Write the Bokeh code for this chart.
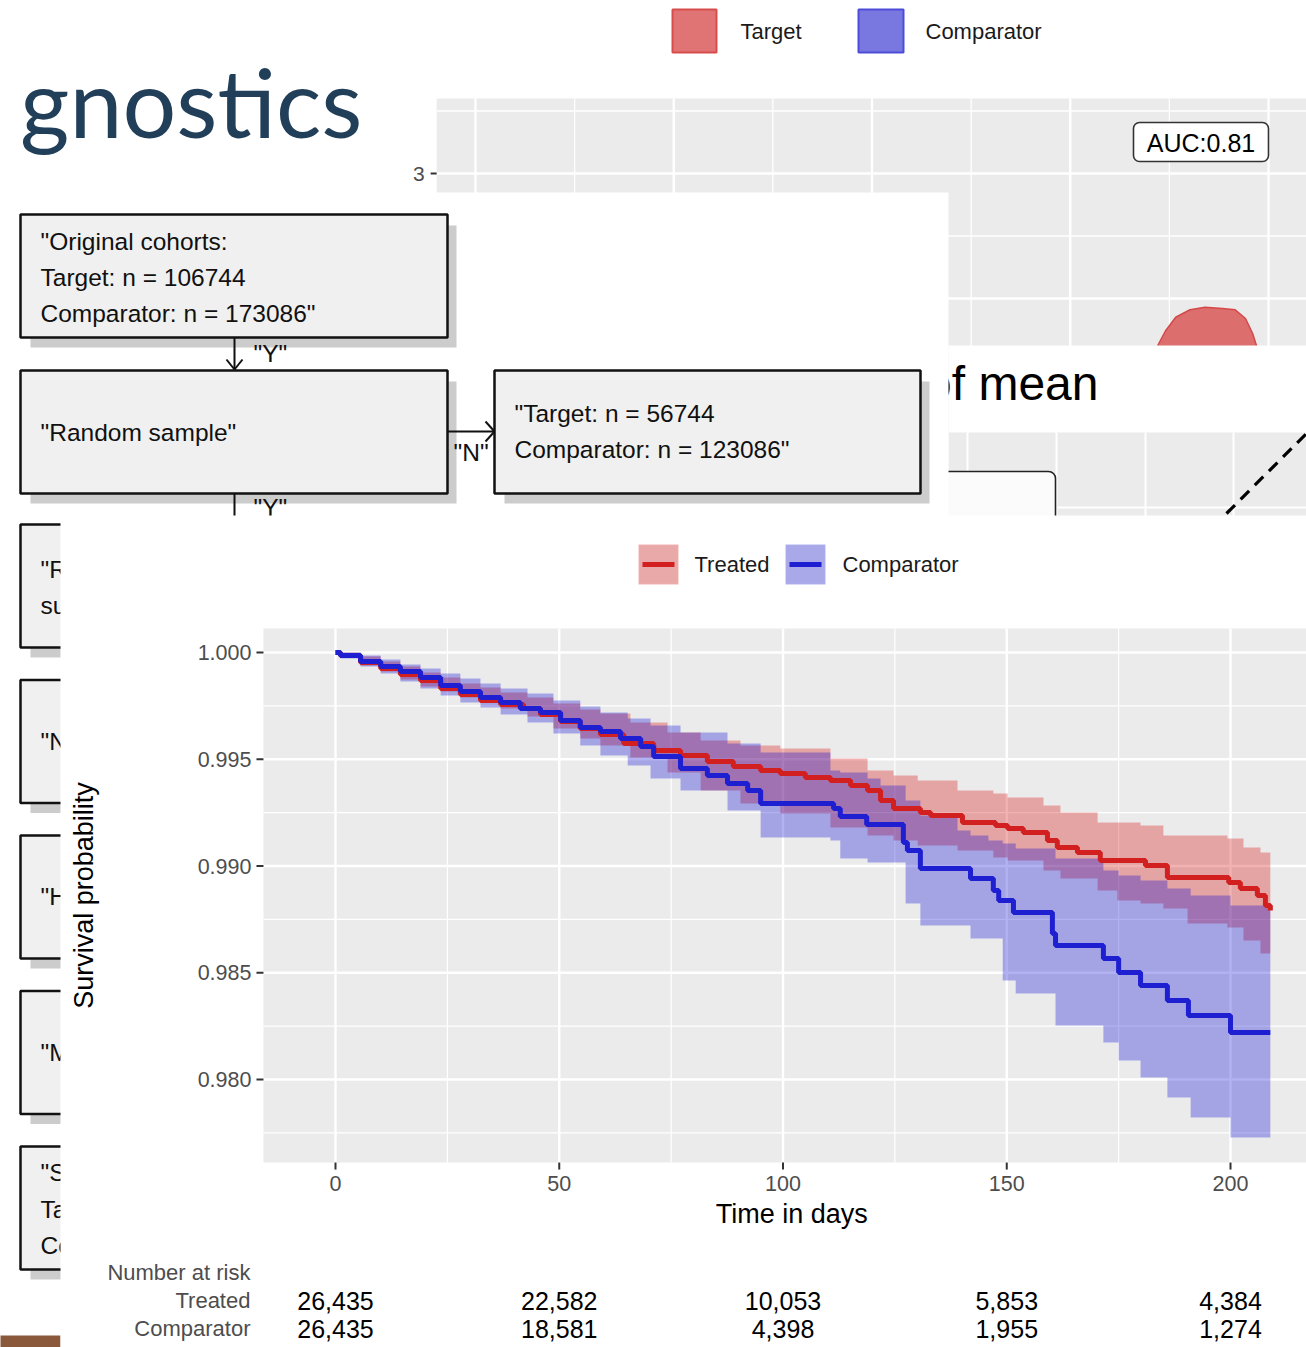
import math
from bokeh.plotting import figure
from bokeh.models import Range1d
from bokeh.core.properties import value
from bokeh.embed import file_html
from bokeh.resources import INLINE

# ---------------- Kaplan-Meier data ----------------
treated_days = [0, 1.1, 5.6, 10.1, 14.5, 19.0, 23.5, 27.9, 32.4, 36.9, 42.0, 45.8, 50.3, 54.7, 59.2,
                64.4, 71.1, 77.1, 83.1, 88.9, 95.0, 99.4, 105.0, 110.6, 115.1, 118.9, 121.8, 124.7,
                130.7, 133.0, 140.1, 147.5, 150.2, 153.7, 159.1, 161.3, 165.8, 170.9, 181.0, 185.9,
                199.6, 202.2, 206.0, 207.8, 208.9]
treated_surv = [1.0, 0.99986, 0.99953, 0.99925, 0.99897, 0.99869, 0.99831, 0.99803, 0.99775, 0.99756,
                0.99738, 0.99710, 0.99677, 0.99644, 0.99616, 0.99574, 0.99541, 0.99518, 0.99489, 0.99466,
                0.99447, 0.99433, 0.99415, 0.99400, 0.99377, 0.99354, 0.99307, 0.99269, 0.99251, 0.99237,
                0.99204, 0.99190, 0.99176, 0.99157, 0.99119, 0.99087, 0.99063, 0.99026, 0.99002, 0.98946,
                0.98923, 0.98895, 0.98862, 0.98815, 0.98792]
comparator_days = [0, 1.1, 5.6, 10.1, 14.5, 19.0, 23.5, 27.9, 32.4, 36.9, 41.3, 45.8, 50.3, 54.7, 59.2,
                   63.7, 68.2, 71.1, 77.1, 83.1, 87.6, 92.1, 95.0, 111.3, 112.8, 118.7, 126.9, 127.8,
                   130.7, 141.9, 147.0, 148.2, 151.5, 160.2, 160.9, 171.6, 175.0, 179.9, 185.9, 190.6,
                   200.0, 208.9]
comparator_surv = [1.0, 0.99986, 0.99958, 0.99934, 0.99911, 0.99883, 0.99845, 0.99817, 0.99789, 0.99766,
                   0.99738, 0.99719, 0.99681, 0.99649, 0.99630, 0.99597, 0.99560, 0.99513, 0.99457, 0.99424,
                   0.99386, 0.99354, 0.99293, 0.99269, 0.99232, 0.99194, 0.99110, 0.99073, 0.98988, 0.98941,
                   0.98885, 0.98838, 0.98782, 0.98684, 0.98628, 0.98567, 0.98501, 0.98440, 0.98370, 0.98300,
                   0.98220, 0.98220]
treated_ci_days = [0, 1.1, 5.6, 10.1, 14.5, 19.0, 23.5, 27.9, 32.4, 36.9, 42.9, 48.7, 54.7, 59.2, 65.9,
                   74.2, 81.6, 90.5, 99.4, 110.6, 118.9, 124.7, 130.1, 139.0, 147.0, 150.2, 158.2, 162.0,
                   170.3, 174.7, 179.9, 185.0, 190.4, 199.3, 202.9, 206.7, 208.9]
treated_ci_upper = [1.0, 1.0, 0.99981, 0.99958, 0.99934, 0.99906, 0.99883, 0.99855, 0.99836, 0.99813,
                    0.99789, 0.99761, 0.99733, 0.99714, 0.99672, 0.99625, 0.99588, 0.99564, 0.99550, 0.99504,
                    0.99447, 0.99424, 0.99400, 0.99354, 0.99340, 0.99321, 0.99283, 0.99251, 0.99204, 0.99204,
                    0.99190, 0.99143, 0.99143, 0.99129, 0.99087, 0.99063, 0.99012]
treated_ci_lower = [1.0, 0.99977, 0.99939, 0.99911, 0.99874, 0.99841, 0.99817, 0.99789, 0.99766, 0.99738,
                    0.99700, 0.99644, 0.99597, 0.99564, 0.99508, 0.99438, 0.99354, 0.99293, 0.99246, 0.99180,
                    0.99143, 0.99119, 0.99096, 0.99073, 0.99040, 0.99026, 0.98979, 0.98941, 0.98885, 0.98838,
                    0.98824, 0.98801, 0.98731, 0.98712, 0.98651, 0.98590, 0.98543]
comparator_ci_days = [0, 1.1, 5.6, 10.1, 14.5, 19.0, 23.5, 27.9, 32.4, 36.9, 42.9, 48.7, 54.7, 59.2, 65.3,
                      70.4, 77.1, 87.6, 95.0, 110.6, 112.8, 118.9, 121.8, 127.4, 130.7, 139.0, 141.9, 145.9,
                      149.1, 152.0, 160.9, 171.6, 175.0, 179.9, 185.9, 191.1, 200.0, 208.9]
comparator_ci_upper = [1.0, 1.0, 0.99986, 0.99967, 0.99944, 0.99925, 0.99902, 0.99878, 0.99855, 0.99831,
                       0.99808, 0.99775, 0.99747, 0.99719, 0.99691, 0.99658, 0.99625, 0.99574, 0.99532, 0.99447,
                       0.99438, 0.99410, 0.99377, 0.99307, 0.99237, 0.99166, 0.99143, 0.99119, 0.99105, 0.99082,
                       0.99035, 0.98979, 0.98956, 0.98932, 0.98895, 0.98862, 0.98815, 0.98815]
comparator_ci_lower = [1.0, 0.99972, 0.99934, 0.99902, 0.99864, 0.99831, 0.99799, 0.99766, 0.99742, 0.99710,
                       0.99672, 0.99621, 0.99564, 0.99518, 0.99471, 0.99410, 0.99354, 0.99260, 0.99133, 0.99119,
                       0.99035, 0.99016, 0.99016, 0.98824, 0.98721, 0.98721, 0.98660, 0.98660, 0.98464, 0.98403,
                       0.98253, 0.98173, 0.98089, 0.98009, 0.97916, 0.97822, 0.97728, 0.97728]
km_x_major = [0, 50, 100, 150, 200]
km_x_minor = [25, 75, 125, 175]
km_y_major = [0.980, 0.985, 0.990, 0.995, 1.000]
km_y_minor = [0.9775, 0.9825, 0.9875, 0.9925, 0.9975]
km_y_labels = ["0.980", "0.985", "0.990", "0.995", "1.000"]
km_x_labels = ["0", "50", "100", "150", "200"]
km_x_lim = (-16.1, 220.0)
km_y_lim = (0.97611, 1.00112)
risk_times = [0, 50, 100, 150, 200]
risk_treated = ["26,435", "22,582", "10,053", "5,853", "4,384"]
risk_comparator = ["26,435", "18,581", "4,398", "1,955", "1,274"]
km_groups = ["Treated", "Comparator"]

# ---------------- background: preference-score plot ----------------
ps_score = [0.851, 0.860, 0.870, 0.883, 0.901, 0.920, 0.942, 0.958, 0.971, 0.980, 0.985, 0.990]
ps_density = [1.50, 1.62, 1.74, 1.85, 1.91, 1.93, 1.92, 1.91, 1.84, 1.72, 1.62, 1.50]
ps_x_major = [0, 0.25, 0.5, 0.75, 1.0]
ps_x_minor = [0.125, 0.375, 0.625, 0.875]
ps_y_major = [2, 3]
ps_y_minor = [2.5, 3.5]
ps_x_lim = (-0.049, 1.1)
ps_y_lim = (0.0, 3.6)
ps_groups = ["Target", "Comparator"]
auc_text = "AUC:0.81"

# ---------------- background: attrition diagram ----------------
flow_box1 = ['"Original cohorts:', 'Target: n = 106744', 'Comparator: n = 173086"']
flow_box2 = ['"Random sample"']
flow_box3 = ['"Target: n = 56744', 'Comparator: n = 123086"']
flow_left_boxes = [['"Re', 'sub'], ['"No'], ['"Ha'], ['"Ma'], ['"St', 'Tar', 'Com']]

# ---------------- colours ----------------
RED_LINE, BLUE_LINE = "#D21F1F", "#1F1FD2"
RED_FILL, BLUE_FILL = "#D70000", "#0000D4"
GRAY_PANEL = "#EBEBEB"
FONT = value("Liberation Sans")

# ---------------- canvas: the page window in reference pixels ----------------
PX0, PX1, PY0, PY1 = 0, 1306, 0, 1347


def span(p_a, v_a, p_b, v_b, lo, hi):
    k = (v_b - v_a) / (p_b - p_a)
    return v_a + (lo - p_a) * k, v_a + (hi - p_a) * k


p = figure(width=PX1 - PX0, height=PY1 - PY0, x_range=Range1d(PX0, PX1), y_range=Range1d(PY1, PY0),
           output_backend="svg", toolbar_location=None, min_border=0,
           x_axis_location=None, y_axis_location=None)
p.background_fill_color = "white"
p.border_fill_color = "white"
p.outline_line_color = None
p.grid.visible = False

# panel scales (pixel anchors of the reference axes)
p.extra_x_ranges = {"km": Range1d(*span(335, 0, 1230, 200, PX0, PX1)),
                    "ps": Range1d(*span(475, 0.0, 1268, 1.0, PX0, PX1))}
p.extra_y_ranges = {"km": Range1d(*span(652, 1.0, 1079, 0.98, PY1, PY0)),
                    "ps": Range1d(*span(173, 3.0, 298, 2.0, PY1, PY0))}
KM = dict(x_range_name="km", y_range_name="km")
PS = dict(x_range_name="ps", y_range_name="ps")


def txt(x, y, s, size, color="black", align="left", baseline="middle", font=FONT, **kw):
    p.text(x=list(x), y=list(y), text=list(s), text_font=font, text_font_size=value(f"{size}px"),
           text_color=color, text_align=align, text_baseline=baseline, **kw)


# ======== preference score plot (back layer) ========
p.quad(left=[ps_x_lim[0]], right=[ps_x_lim[1]], bottom=[ps_y_lim[0]], top=[ps_y_lim[1]],
       fill_color=GRAY_PANEL, line_color=None, **PS)
p.segment(x0=ps_x_minor, x1=ps_x_minor, y0=[ps_y_lim[0]] * 4, y1=[ps_y_lim[1]] * 4,
          line_color="white", line_width=1.3, **PS)
p.segment(x0=[ps_x_lim[0]] * 2, x1=[ps_x_lim[1]] * 2, y0=ps_y_minor, y1=ps_y_minor,
          line_color="white", line_width=1.3, **PS)
p.segment(x0=ps_x_major, x1=ps_x_major, y0=[ps_y_lim[0]] * 5, y1=[ps_y_lim[1]] * 5,
          line_color="white", line_width=2.4, **PS)
p.segment(x0=[ps_x_lim[0]] * 2, x1=[ps_x_lim[1]] * 2, y0=ps_y_major, y1=ps_y_major,
          line_color="white", line_width=2.4, **PS)
p.varea(x=ps_score, y1=[0] * len(ps_score), y2=ps_density, fill_color="#DC6E6E", **PS)
p.line(x=ps_score, y=ps_density, line_color="#D44848", line_width=1.5, **PS)
p.ray(x=[ps_x_lim[0]], y=[3], length=6, length_units="screen", angle=math.pi,
      line_color="#333333", line_width=2, **PS)
txt([ps_x_lim[0]], [3], ["3"], 21, color="#4D4D4D", align="right", x_offset=-12, **PS)
p.quad(left=[1133], right=[1268], top=[122], bottom=[161], fill_color="white",
       line_color="#333333", line_width=1.6, border_radius=6)
txt([1200.5], [142], [auc_text], 25, align="center")
# legend of the preference score plot
p.quad(left=[672, 858], right=[716, 903], top=[9, 9], bottom=[52, 52],
       fill_color=["#E07474", "#7878E0"], line_color=["#D94C4C", "#4C4CD9"], line_width=2)
txt([740, 925], [31, 31], ps_groups, 22, color="#1A1A1A")

# ======== covariate balance plot (middle layer) ========
p.quad(left=[948], right=[1310], top=[345], bottom=[520], fill_color="white", line_color=None)
txt([1098], [382.5], ["of mean"], 48, align="right", baseline="alphabetic")
p.quad(left=[948], right=[1310], top=[432], bottom=[520], fill_color=GRAY_PANEL, line_color=None)
p.segment(x0=[967, 1056, 1145, 1233], x1=[967, 1056, 1145, 1233], y0=[432] * 4, y1=[520] * 4,
          line_color="white", line_width=2)
p.segment(x0=[948], x1=[1310], y0=[507], y1=[507], line_color="white", line_width=2)
p.quad(left=[900], right=[1055], top=[471], bottom=[540], fill_color="#FBFBFB",
       line_color="#222222", line_width=1.6, border_radius=7)
p.segment(x0=[1226], y0=[513], x1=[1310], y1=[429], line_color="black", line_width=3.2,
          line_dash="12 8")

# ======== attrition diagram (upper-left layer) ========
p.quad(left=[-10], right=[948], top=[192], bottom=[1360], fill_color="white", line_color=None)


def box(l, r, t, b):
    p.quad(left=[l + 10], right=[r + 9], top=[t + 11], bottom=[b + 10], fill_color="#CCCCCC", line_color=None)
    p.quad(left=[l], right=[r], top=[t], bottom=[b], fill_color="#F0F0F0", line_color="#111111", line_width=2.5)


box(20, 447, 214, 337)
txt([40] * 3, [241, 277, 313], flow_box1, 24.5, color="#111111")
box(20, 447, 370, 493)
txt([40], [432], flow_box2, 24.5, color="#111111")
box(494, 920, 370, 493)
txt([514, 514], [413, 449], flow_box3, 24.5, color="#111111")
# arrows
p.segment(x0=[234, 447, 234], y0=[337, 431, 493], x1=[234, 494, 234], y1=[369, 431, 530],
          line_color="#111111", line_width=2)
p.segment(x0=[226, 242, 485, 485], y0=[359, 359, 421, 441], x1=[234, 234, 494, 494], y1=[369, 369, 431, 431],
          line_color="#111111", line_width=2)
txt([253, 453, 253], [353, 452, 507], ['"Y"', '"N"', '"Y"'], 24.5, color="#111111")
for i, lines in enumerate(flow_left_boxes):
    top = 524 + 155.5 * i
    box(20, 447, top, top + 123)
    if len(lines) == 1:
        ys = [top + 61]
    elif len(lines) == 2:
        ys = [top + 45, top + 81]
    else:
        ys = [top + 26, top + 63, top + 99]
    txt([40] * len(lines), ys, lines, 24.5, color="#111111")
p.quad(left=[-10], right=[60], top=[1335], bottom=[1360], fill_color="#8A583B", line_color=None)

# title fragment
txt([362], [100], ["gnostics"], 95, color="#223F5A", align="right", baseline="alphabetic",
    font=value("Lato"))

# ======== Kaplan-Meier plot (front layer) ========
p.quad(left=[60], right=[1310], top=[515], bottom=[1360], fill_color="white", line_color=None)
p.quad(left=[km_x_lim[0]], right=[km_x_lim[1]], bottom=[km_y_lim[0]], top=[km_y_lim[1]],
       fill_color=GRAY_PANEL, line_color=None, **KM)
p.segment(x0=km_x_minor, x1=km_x_minor, y0=[km_y_lim[0]] * 4, y1=[km_y_lim[1]] * 4,
          line_color="white", line_width=1.2, **KM)
p.segment(x0=[km_x_lim[0]] * 5, x1=[km_x_lim[1]] * 5, y0=km_y_minor, y1=km_y_minor,
          line_color="white", line_width=1.2, **KM)
p.segment(x0=km_x_major, x1=km_x_major, y0=[km_y_lim[0]] * 5, y1=[km_y_lim[1]] * 5,
          line_color="white", line_width=2.4, **KM)
p.segment(x0=[km_x_lim[0]] * 5, x1=[km_x_lim[1]] * 5, y0=km_y_major, y1=km_y_major,
          line_color="white", line_width=2.4, **KM)

p.varea_step(x=treated_ci_days, y1=treated_ci_lower, y2=treated_ci_upper, step_mode="after",
             fill_color=RED_FILL, fill_alpha=0.3, **KM)
p.varea_step(x=comparator_ci_days, y1=comparator_ci_lower, y2=comparator_ci_upper, step_mode="after",
             fill_color=BLUE_FILL, fill_alpha=0.3, **KM)
p.step(x=treated_days, y=treated_surv, mode="after", line_color=RED_LINE, line_width=5, **KM)
p.step(x=comparator_days, y=comparator_surv, mode="after", line_color=BLUE_LINE, line_width=5, **KM)

# axes
p.ray(x=[km_x_lim[0]] * 5, y=km_y_major, length=7, length_units="screen", angle=math.pi,
      line_color="#333333", line_width=2, **KM)
p.ray(x=km_x_major, y=[km_y_lim[0]] * 5, length=7, length_units="screen", angle=-math.pi / 2,
      line_color="#333333", line_width=2, **KM)
txt([km_x_lim[0]] * 5, km_y_major, km_y_labels, 21.5, color="#4D4D4D", align="right", x_offset=-12, **KM)
txt(km_x_major, [km_y_lim[0]] * 5, km_x_labels, 21.5, color="#4D4D4D", align="center", y_offset=21, **KM)
txt([(km_x_lim[0] + km_x_lim[1]) / 2], [km_y_lim[0]], ["Time in days"], 27, align="center", y_offset=51, **KM)
txt([km_x_lim[0]], [(km_y_lim[0] + km_y_lim[1]) / 2], ["Survival probability"], 27, align="center",
    x_offset=-179, angle=math.pi / 2, **KM)

# number at risk table
txt([km_x_lim[0]] * 3, [km_y_lim[0]] * 3, ["Number at risk"] + km_groups, 22, color="#4D4D4D",
    align="right", x_offset=-13, y_offset=[110, 138, 166], **KM)
txt(risk_times, [km_y_lim[0]] * 5, risk_treated, 25, align="center", y_offset=138, **KM)
txt(risk_times, [km_y_lim[0]] * 5, risk_comparator, 25, align="center", y_offset=166, **KM)

# legend
p.quad(left=[638, 785], right=[678, 825], top=[544, 544], bottom=[584, 584],
       fill_color="#F2F2F2", line_color="white", line_width=1.5)
p.quad(left=[638, 785], right=[678, 825], top=[544, 544], bottom=[584, 584],
       fill_color=[RED_FILL, BLUE_FILL], fill_alpha=0.3, line_color=None)
p.segment(x0=[642, 789], x1=[674, 821], y0=[564, 564], y1=[564, 564],
          line_color=[RED_LINE, BLUE_LINE], line_width=5)
txt([694, 842], [564, 564], km_groups, 22, color="#1A1A1A")

open("out.html", "w").write(file_html(p, INLINE))
